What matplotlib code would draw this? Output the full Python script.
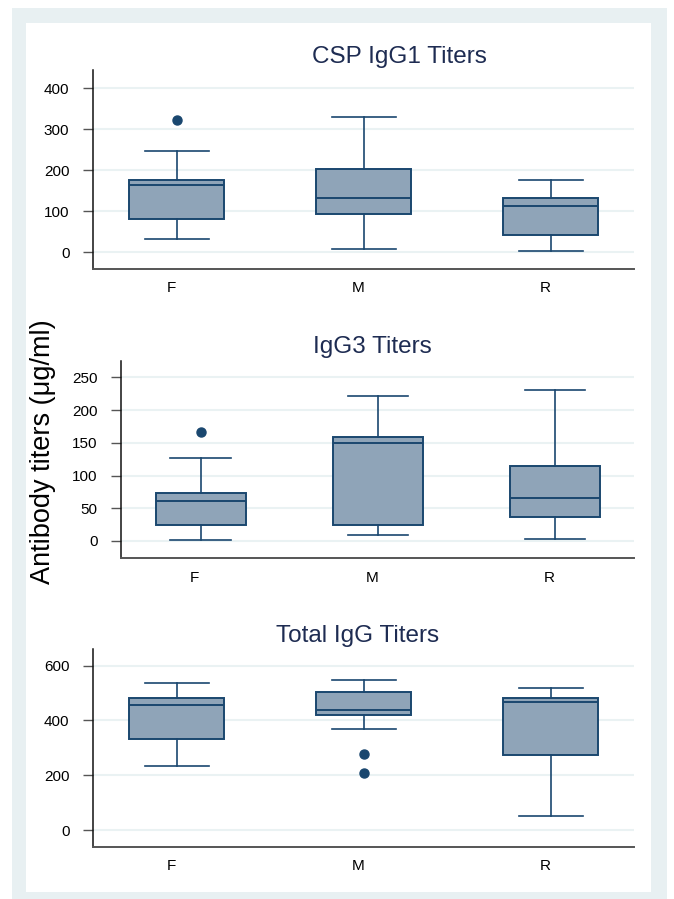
import matplotlib.pyplot as plt
from matplotlib.patches import Rectangle
from matplotlib.transforms import ScaledTranslation

plt.rcParams['font.family'] = ['Liberation Sans', 'DejaVu Sans']

groups = ['F', 'M', 'R']

# CSP IgG1 titers: (whislo, q1, med, q3, whishi, fliers)
igg1_stats = [(33, 81, 163, 176, 246, [323]),
              (8, 93, 131, 203, 329, []),
              (4, 43, 112, 133, 177, [])]
# IgG3 titers
igg3_stats = [(2, 25, 61, 74, 127, [166]),
              (9, 25, 150, 159, 221, []),
              (2.5, 37, 66, 114, 230, [])]
# Total IgG titers
total_stats = [(235, 332, 456, 482, 537, []),
               (368, 421, 437, 505, 549, [278, 208]),
               (51, 273, 466, 482, 517, [])]

titles = ['CSP IgG1 Titers', 'IgG3 Titers', 'Total IgG Titers']
yticks = [[0, 100, 200, 300, 400], [0, 50, 100, 150, 200, 250], [0, 200, 400, 600]]
ylims = [(-41, 444), (-26, 275), (-62, 661)]

navy = '#1a476f'
fill = '#8fa4b8'
grid = '#eaf2f3'
title_col = '#1e2c52'

W, H = 674, 899
fig = plt.figure(figsize=(W / 100, H / 100), dpi=100)
fig.patch.set_facecolor('white')

# light frame and white plot region
fig.patches.append(Rectangle((12 / W, 0), 655 / W, 1 - 8 / H, transform=fig.transFigure,
                             facecolor='#e8f0f2', edgecolor='none', zorder=-10))
fig.patches.append(Rectangle((26 / W, 7 / H), 625 / W, (892 - 23) / H, transform=fig.transFigure,
                             facecolor='white', edgecolor='none', zorder=-9))

# axes boxes in pixels: left, right, top, bottom
boxes = [(93, 634, 70, 269), (121, 634, 361, 558), (93, 634, 649, 847)]
# title centre x and baseline y in pixels
title_pos = [(399, 63), (372, 353), (358, 642)]

shift = ScaledTranslation(-6 / 100, 0, fig.dpi_scale_trans)

for i, st in enumerate([igg1_stats, igg3_stats, total_stats]):
    l, r, t, b = boxes[i]
    ax = fig.add_axes([l / W, 1 - b / H, (r - l) / W, (b - t) / H])
    ax.set_facecolor('white')
    stats = []
    for g, (lo, q1, med, q3, hi, fl) in zip(groups, st):
        stats.append(dict(label=g, whislo=lo, q1=q1, med=med, q3=q3, whishi=hi, fliers=fl))
    ax.bxp(stats, positions=[1, 2, 3], widths=0.508, capwidths=0.34, patch_artist=True,
           boxprops=dict(facecolor=fill, edgecolor=navy, linewidth=1.4),
           medianprops=dict(color=navy, linewidth=1.4),
           whiskerprops=dict(color=navy, linewidth=1.2),
           capprops=dict(color=navy, linewidth=1.2),
           flierprops=dict(marker='o', markerfacecolor=navy, markeredgecolor=navy, markersize=6.5))
    ax.set_xlim(0.551, 3.444)
    ax.set_ylim(*ylims[i])
    ax.set_yticks(yticks[i])
    ax.yaxis.grid(True, color=grid, linewidth=1.5)
    ax.set_axisbelow(True)
    ax.tick_params(axis='y', length=7, width=1, labelsize=11, pad=10, color='#555555',
                   labelcolor='black')
    ax.tick_params(axis='x', length=0, labelsize=11, pad=9)
    for lab in ax.get_xticklabels():
        lab.set_transform(lab.get_transform() + shift)
    for s in ['top', 'right']:
        ax.spines[s].set_visible(False)
    ax.spines['left'].set_color('#111111')
    ax.spines['left'].set_linewidth(1.1)
    ax.spines['bottom'].set_color('#555555')
    ax.spines['bottom'].set_linewidth(1.4)
    x, y = title_pos[i]
    fig.text(x / W, 1 - y / H, titles[i], ha='center', va='baseline', fontsize=17.5, color=title_col)

fig.text(43 / W, 1 - 452 / H, 'Antibody titers (μg/ml)', rotation=90, ha='center', va='center',
         fontsize=19.5, color='black')

fig.savefig('out.png', dpi=100)
